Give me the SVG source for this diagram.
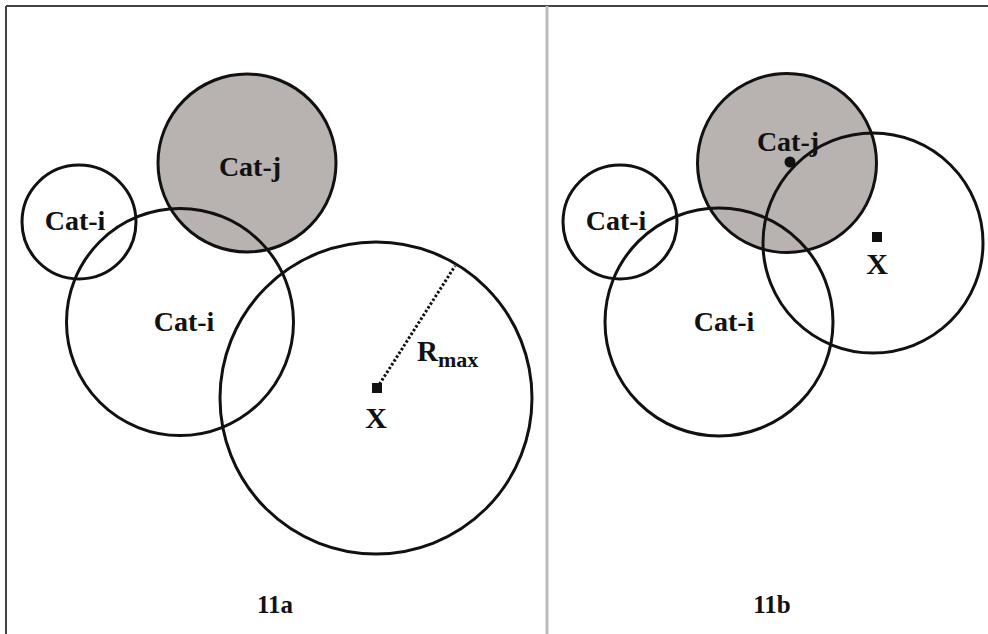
<svg xmlns="http://www.w3.org/2000/svg" width="988" height="634" viewBox="0 0 988 634">
<style>
.c{fill:none;stroke:#111;stroke-width:3}
.g{fill:#b8b2b0;stroke:#111;stroke-width:3}
.t{font-family:"Liberation Serif","Times New Roman",serif;font-weight:bold;fill:#111;text-anchor:middle}
.s{text-anchor:start}
.lbl{font-size:28px}
</style>
<rect width="988" height="634" fill="#fff"/>
<g id="frame">
<line x1="6" y1="6" x2="988" y2="6" stroke="#444" stroke-width="2"/>
<line x1="6" y1="6" x2="6" y2="634" stroke="#444" stroke-width="2"/>
<line x1="547" y1="6" x2="547" y2="634" stroke="#bbb" stroke-width="3"/>
</g>
<g id="panel-11a">
<g id="a-catj"><circle class="g" cx="247" cy="163" r="89"/></g>
<g id="a-cati-small"><circle class="c" cx="79" cy="222" r="57"/></g>
<g id="a-cati-big"><circle class="c" cx="180" cy="322" r="113.5"/></g>
<g id="a-x-circle"><circle class="c" cx="376" cy="398" r="156"/></g>
<g id="a-rmax"><line x1="377" y1="388" x2="455" y2="266" stroke="#111" stroke-width="3" stroke-dasharray="2.5 2"/></g>
<g id="a-x"><rect x="372" y="383" width="10" height="10" fill="#111"/></g>
<text class="t lbl" x="75" y="230">Cat-i</text>
<text class="t lbl" x="250" y="176">Cat-j</text>
<text class="t lbl" x="184" y="331">Cat-i</text>
<text class="t" x="376" y="428" font-size="30">X</text>
<text class="t s" x="417" y="361" font-size="29">R<tspan font-size="22" dy="6">max</tspan></text>
<text class="t" x="275" y="613" font-size="25">11a</text>
</g>
<g id="panel-11b">
<g id="b-catj"><circle class="g" cx="787" cy="163" r="89.5"/></g>
<g id="b-cati-small"><circle class="c" cx="620" cy="222" r="57"/></g>
<g id="b-cati-big"><circle class="c" cx="719" cy="322" r="114"/></g>
<g id="b-x-circle"><circle class="c" cx="873" cy="243" r="110"/></g>
<g id="b-dot"><circle cx="790" cy="162" r="5.5" fill="#111"/></g>
<g id="b-x"><rect x="872" y="232" width="10" height="10" fill="#111"/></g>
<text class="t lbl" x="616" y="230">Cat-i</text>
<text class="t lbl" x="788" y="151">Cat-j</text>
<text class="t lbl" x="724" y="331">Cat-i</text>
<text class="t" x="877" y="274" font-size="30">X</text>
<text class="t" x="772" y="613" font-size="25">11b</text>
</g>
</svg>
